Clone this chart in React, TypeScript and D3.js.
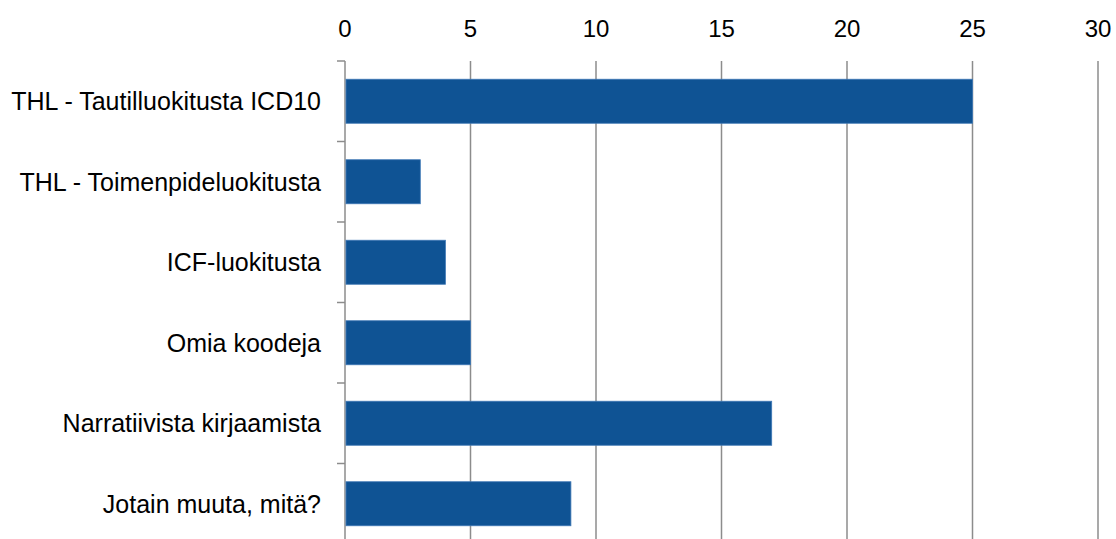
import React from "react";
import * as d3 from "d3";

const categories = [
  "THL - Tautilluokitusta ICD10",
  "THL - Toimenpideluokitusta",
  "ICF-luokitusta",
  "Omia koodeja",
  "Narratiivista kirjaamista",
  "Jotain muuta, mitä?",
];
const values = [25, 3, 4, 5, 17, 9];
const xTicks = [0, 5, 10, 15, 20, 25, 30];

const W = 1116;
const H = 539;
const left = 345;
const right = 1098;
const top = 61;
const bottom = 544;
const font = "'Liberation Sans', Arial, sans-serif";

export default function App() {
  const x = d3.scaleLinear().domain([0, 30]).range([left, right]);
  const y = d3
    .scaleBand<string>()
    .domain(categories)
    .range([top, bottom])
    .paddingInner(0.453)
    .paddingOuter(0.2265);
  const step = (bottom - top) / categories.length;
  const grid = "#8c8c8c";
  return (
    <svg
      width={W}
      height={H}
      style={{ position: "absolute", left: 0, top: 0 }}
    >
      <rect width={W} height={H} fill="#fff" />
      {xTicks.map((t) => (
        <g key={t}>
          <line
            x1={x(t)}
            x2={x(t)}
            y1={top}
            y2={H}
            stroke={grid}
            strokeWidth={1.5}
          />
          <text
            x={x(t)}
            y={37}
            textAnchor="middle"
            fontFamily={font}
            fontSize={24}
            fill="#000"
          >
            {t}
          </text>
        </g>
      ))}
      {d3.range(categories.length + 1).map((i) => (
        <line
          key={i}
          x1={left - 8}
          x2={left}
          y1={top + i * step}
          y2={top + i * step}
          stroke={grid}
          strokeWidth={1.5}
        />
      ))}
      {categories.map((c, i) => (
        <g key={c}>
          <rect
            x={x(0) + 1}
            y={y(c)!}
            width={x(values[i]) - x(0) - 1}
            height={y.bandwidth()}
            fill="#0f5394"
            stroke="#3f78b5"
            strokeWidth={0.8}
          />
          <text
            x={321}
            y={y(c)! + y.bandwidth() / 2}
            dy="0.35em"
            textAnchor="end"
            fontFamily={font}
            fontSize={25}
            fill="#000"
          >
            {c}
          </text>
        </g>
      ))}
    </svg>
  );
}
